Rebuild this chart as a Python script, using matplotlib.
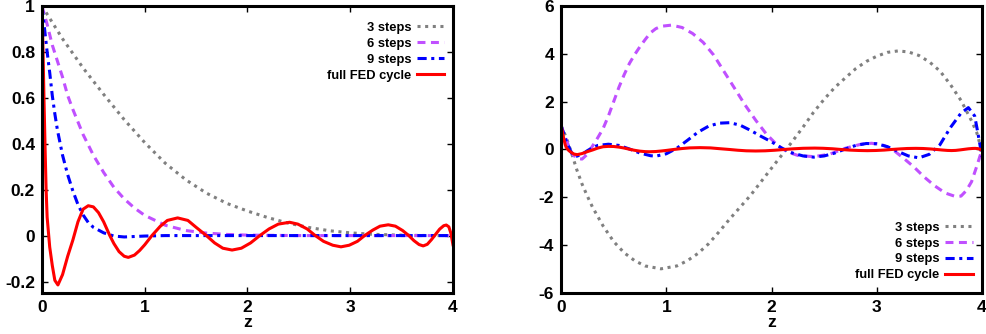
import matplotlib
matplotlib.use("Agg")
import matplotlib.pyplot as plt

plt.rcParams["font.family"] = ["Liberation Sans", "DejaVu Sans"]
plt.rcParams["font.weight"] = "bold"

labels = ["3 steps", "6 steps", "9 steps", "full FED cycle"]

# ---- left panel
z3_left = [0.0, 0.2, 0.4, 0.6, 0.8, 1.0, 1.2, 1.4, 1.6, 1.8, 2.0, 2.2, 2.4,
           2.6, 2.8, 3.0, 3.2, 3.4, 3.6, 3.8, 4.0]
v3_left = [1.0, 0.857, 0.73, 0.615, 0.505, 0.405, 0.315, 0.243, 0.185, 0.14,
           0.107, 0.078, 0.054, 0.035, 0.021, 0.012, 0.006, 0.003, 0.001, 0.0,
           0.0]

z6_left = [0.0, 0.05, 0.1, 0.15, 0.2, 0.25, 0.3, 0.35, 0.4, 0.5, 0.6, 0.7, 0.8,
           0.9, 1.0, 1.2, 1.4, 1.6, 1.8, 2.0, 2.5, 3.0, 3.5, 4.0]
v6_left = [1.0, 0.92, 0.83, 0.76, 0.69, 0.61, 0.55, 0.495, 0.44, 0.35, 0.275,
           0.21, 0.16, 0.12, 0.088, 0.045, 0.022, 0.011, 0.005, 0.002, 0.0, 0.0,
           0.0, 0.0]

z9_left = [0.0, 0.025, 0.05, 0.075, 0.1, 0.125, 0.15, 0.2, 0.25, 0.3, 0.35, 0.4,
           0.45, 0.5, 0.6, 0.7, 0.8, 0.9, 1.0, 1.2, 1.5, 2.0, 2.5, 3.0, 3.5, 4.0]
v9_left = [1.0, 0.9, 0.8, 0.71, 0.61, 0.53, 0.46, 0.35, 0.265, 0.195, 0.135,
           0.09, 0.057, 0.036, 0.012, -0.002, -0.006, -0.004, -0.002, 0.0, 0.0,
           0.0, 0.0, 0.0, 0.0, 0.0]

# full FED cycle (same in both panels)
z_fed = [0.0, 0.01, 0.02, 0.03, 0.04, 0.05, 0.075, 0.1, 0.125, 0.155, 0.2,
         0.25, 0.3, 0.35, 0.4, 0.45, 0.5, 0.55, 0.6, 0.66, 0.7, 0.75, 0.8,
         0.84, 0.9, 0.95, 1.0, 1.07, 1.15, 1.22, 1.32, 1.42, 1.5, 1.6, 1.68,
         1.76, 1.85, 1.94, 2.03, 2.12, 2.21, 2.30, 2.41, 2.49, 2.58, 2.66,
         2.74, 2.83, 2.91, 2.99, 3.07, 3.14, 3.22, 3.29, 3.37, 3.44, 3.51,
         3.57, 3.62, 3.67, 3.71, 3.75, 3.79, 3.83, 3.87, 3.91, 3.935, 3.96,
         3.98, 4.0]
v_fed = [1.0, 0.8, 0.58, 0.38, 0.2, 0.08, -0.05, -0.13, -0.195, -0.215, -0.17,
         -0.09, -0.02, 0.06, 0.115, 0.13, 0.125, 0.1, 0.06, 0.0, -0.035, -0.07,
         -0.09, -0.095, -0.085, -0.065, -0.04, 0.0, 0.04, 0.066, 0.077, 0.066,
         0.036, 0.0, -0.032, -0.055, -0.063, -0.055, -0.032, 0.0, 0.029, 0.05,
         0.058, 0.05, 0.029, 0.0, -0.025, -0.042, -0.049, -0.042, -0.025, 0.0,
         0.024, 0.041, 0.047, 0.041, 0.022, 0.0, -0.022, -0.039, -0.045,
         -0.038, -0.018, 0.005, 0.028, 0.043, 0.046, 0.038, 0.01, -0.04]

# ---- right panel
z3_right = [0.0, 0.05, 0.1, 0.15, 0.2, 0.25, 0.3, 0.4, 0.5, 0.6, 0.7, 0.8, 0.95,
            1.1, 1.2, 1.3, 1.4, 1.5, 1.6, 1.7, 1.8, 1.9, 2.0, 2.1, 2.2, 2.3,
            2.4, 2.5, 2.6, 2.7, 2.8, 2.9, 3.0, 3.1, 3.2, 3.3, 3.4, 3.5, 3.6,
            3.7, 3.8, 3.9, 3.95, 4.0]
v3_right = [1.0, 0.5, -0.15, -0.85, -1.45, -1.95, -2.42, -3.2, -3.85, -4.32,
            -4.65, -4.87, -4.99, -4.87, -4.65, -4.35, -3.95, -3.45, -2.92,
            -2.42, -1.92, -1.35, -0.78, -0.22, 0.35, 0.94, 1.56, 2.1, 2.59,
            2.99, 3.38, 3.68, 3.9, 4.06, 4.12, 4.08, 3.93, 3.66, 3.28, 2.71,
            2.05, 1.2, 0.7, -0.1]

z6_right = [0.0, 0.05, 0.1, 0.15, 0.2, 0.25, 0.3, 0.35, 0.4, 0.45, 0.5, 0.55,
            0.6, 0.65, 0.7, 0.75, 0.8, 0.85, 0.9, 0.95, 1.05, 1.15, 1.25, 1.35,
            1.45, 1.55, 1.65, 1.75, 1.85, 1.95, 2.05, 2.15, 2.25, 2.4, 2.55,
            2.7, 2.85, 2.95, 3.05, 3.15, 3.25, 3.35, 3.45, 3.55, 3.65, 3.75,
            3.8, 3.85, 3.9, 3.95, 4.0]
v6_right = [1.0, 0.4, -0.15, -0.38, -0.4, -0.2, 0.15, 0.5, 0.88, 1.4, 2.0, 2.6,
            3.13, 3.6, 3.97, 4.3, 4.6, 4.88, 5.05, 5.15, 5.2, 5.1, 4.85, 4.48,
            3.95, 3.25, 2.55, 1.85, 1.22, 0.65, 0.2, -0.1, -0.25, -0.3, -0.2,
            0.05, 0.22, 0.26, 0.2, 0.0, -0.35, -0.72, -1.15, -1.52, -1.82,
            -1.97, -1.95, -1.72, -1.35, -0.7, 0.0]

z9_right = [0.0, 0.05, 0.1, 0.15, 0.2, 0.25, 0.3, 0.35, 0.45, 0.55, 0.65, 0.75,
            0.85, 0.9, 1.0, 1.1, 1.2, 1.3, 1.4, 1.5, 1.6, 1.7, 1.8, 1.9, 2.0,
            2.1, 2.2, 2.3, 2.4, 2.5, 2.6, 2.7, 2.8, 2.9, 3.0, 3.1, 3.2, 3.3,
            3.4, 3.5, 3.6, 3.7, 3.8, 3.87, 3.93, 3.96, 4.0]
v9_right = [1.0, 0.35, -0.15, -0.28, -0.2, -0.05, 0.08, 0.17, 0.22, 0.17, 0.02,
            -0.15, -0.26, -0.28, -0.18, 0.05, 0.38, 0.72, 0.97, 1.1, 1.12, 1.02,
            0.8, 0.55, 0.32, 0.05, -0.15, -0.27, -0.32, -0.27, -0.15, 0.02, 0.17,
            0.25, 0.24, 0.12, -0.08, -0.27, -0.35, -0.2, 0.2, 0.92, 1.52, 1.75,
            1.4, 0.7, -0.3]

colors = ["#808080", "#c050ff", "#0000ff", "#ff0000"]
dashes = [(1, 1.5), (2.6, 1.8), (3, 1.5, 1, 1.5), None]


def draw_panel(ax, series, ylim, yticks, ytick_labels, legend_loc, anchor):
    for (z, v), lab, col, ds in zip(series, labels, colors, dashes):
        line, = ax.plot(z, v, color=col, lw=2.2, label=lab)
        if ds is not None:
            line.set_dashes(ds)
    ax.set_xlim(0, 4)
    ax.set_ylim(*ylim)
    ax.set_xticks([0, 1, 2, 3, 4])
    ax.set_yticks(yticks)
    ax.set_yticklabels(ytick_labels)
    ax.tick_params(direction="in", length=4, width=1, top=True, right=True,
                   labelsize=12.5, pad=5)
    for sp in ax.spines.values():
        sp.set_linewidth(2.2)
    ax.set_xlabel("z", fontsize=12.5, fontweight="bold", labelpad=0)
    # markerfirst=False puts the sample on the right and right-aligns the text
    ax.legend(loc=legend_loc, bbox_to_anchor=anchor, frameon=False,
              markerfirst=False, fontsize=9.3, handlelength=2.1,
              labelspacing=0.3, handletextpad=0.45, borderaxespad=0.5)


fig = plt.figure(figsize=(9.86, 3.34), dpi=100)
ax1 = fig.add_axes([0.0426, 0.1228, 0.4168, 0.8593])
ax2 = fig.add_axes([0.569, 0.1228, 0.427, 0.8593])

draw_panel(ax1, [(z3_left, v3_left), (z6_left, v6_left),
                 (z9_left, v9_left), (z_fed, v_fed)],
           (-0.25, 1.0), [-0.2, 0, 0.2, 0.4, 0.6, 0.8, 1.0],
           ["-0.2", "0", "0.2", "0.4", "0.6", "0.8", "1"], "upper right",
           (1.007, 0.985))
draw_panel(ax2, [(z3_right, v3_right), (z6_right, v6_right),
                 (z9_right, v9_right), (z_fed, v_fed)],
           (-6, 6), [-6, -4, -2, 0, 2, 4, 6],
           ["-6", "-4", "-2", "0", "2", "4", "6"], "lower right",
           (1.005, 0.0))

fig.savefig("out.png", dpi=100)
